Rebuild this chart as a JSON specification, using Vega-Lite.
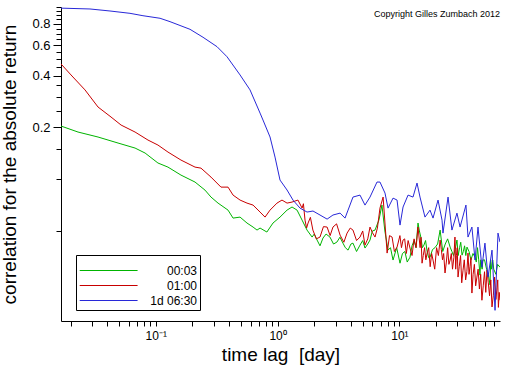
{
 "$schema": "https://vega.github.io/schema/vega-lite/v6.json",
 "width": 439, "height": 314,
 "autosize": {"type": "none"},
 "padding": {"left": 61, "top": 7, "right": 12, "bottom": 45},
 "background": "white",
 "config": {"view": {"stroke": null}, "font": "Liberation Sans"},
 "title": {"text": "Copyright Gilles Zumbach 2012", "anchor": "end", "fontSize": 9, "fontWeight": "normal", "font": "Liberation Sans", "offset": -18, "color": "black"},
 "data": {"values": [
  {"s":"00:03","x":0.01667,"y":0.2035},{"s":"00:03","x":0.023,"y":0.1878},{"s":"00:03","x":0.03357,"y":0.1757},{"s":"00:03","x":0.049,"y":0.1621},{"s":"00:03","x":0.0676,"y":0.1516},{"s":"00:03","x":0.0817,"y":0.1418},{"s":"00:03","x":0.1042,"y":0.1241},{"s":"00:03","x":0.1259,"y":0.1175},{"s":"00:03","x":0.161,"y":0.1056},{"s":"00:03","x":0.21,"y":0.0962},{"s":"00:03","x":0.2535,"y":0.0864},{"s":"00:03","x":0.284,"y":0.0787},{"s":"00:03","x":0.3245,"y":0.0726},{"s":"00:03","x":0.392,"y":0.0661},{"s":"00:03","x":0.431,"y":0.0594},{"s":"00:03","x":0.492,"y":0.0602},{"s":"00:03","x":0.561,"y":0.0556},{"s":"00:03","x":0.629,"y":0.0527},{"s":"00:03","x":0.678,"y":0.0506},{"s":"00:03","x":0.718,"y":0.052},{"s":"00:03","x":0.817,"y":0.0493},{"s":"00:03","x":0.917,"y":0.0556},{"s":"00:03","x":1.047,"y":0.0602},{"s":"00:03","x":1.196,"y":0.0661},{"s":"00:03","x":1.314,"y":0.0689},{"s":"00:03","x":1.445,"y":0.0661},{"s":"00:03","x":1.59,"y":0.0578},{"s":"00:03","x":1.745,"y":0.0506},{"s":"00:03","x":1.92,"y":0.0461},{"s":"00:03","x":2.11,"y":0.0443},{"s":"00:03","x":2.36,"y":0.0455},{"s":"00:03","x":2.69,"y":0.0461},{"s":"00:03","x":3.07,"y":0.0431},{"s":"00:03","x":3.44,"y":0.0425},{"s":"00:03","x":3.79,"y":0.0387},{"s":"00:03","x":4.16,"y":0.0425},{"s":"00:03","x":4.75,"y":0.0414},{"s":"00:03","x":5.22,"y":0.0398},{"s":"00:03","x":5.74,"y":0.0443},{"s":"00:03","x":6.31,"y":0.0506},{"s":"00:03","x":7.19,"y":0.0707},{"s":"00:03","x":8.07,"y":0.0387},{"s":"00:03","x":8.87,"y":0.0339},{"s":"00:03","x":10.12,"y":0.0325},{"s":"00:03","x":12.22,"y":0.0352},{"s":"00:03","x":14.22,"y":0.0556},{"s":"00:03","x":15.9,"y":0.0414},{"s":"00:03","x":17.85,"y":0.0352},{"s":"00:03","x":21.6,"y":0.0506},{"s":"00:03","x":26.1,"y":0.0403},{"s":"00:03","x":29.7,"y":0.0443},{"s":"00:03","x":32.7,"y":0.0362},{"s":"00:03","x":35.9,"y":0.0403},{"s":"00:03","x":41.8,"y":0.0352},{"s":"00:03","x":45.9,"y":0.0277},{"s":"00:03","x":48.5,"y":0.0339},{"s":"00:03","x":55.5,"y":0.0243},{"s":"00:03","x":58.4,"y":0.0339},{"s":"00:03","x":67,"y":0.0308},
  {"s":"00:03","x":2.0,"y":0.048},{"s":"00:03","x":2.23,"y":0.041},{"s":"00:03","x":2.5,"y":0.048},{"s":"00:03","x":2.88,"y":0.042},{"s":"00:03","x":3.25,"y":0.046},{"s":"00:03","x":3.6,"y":0.04},{"s":"00:03","x":4.0,"y":0.042},{"s":"00:03","x":4.45,"y":0.038},{"s":"00:03","x":5.0,"y":0.044},{"s":"00:03","x":5.5,"y":0.042},{"s":"00:03","x":6.0,"y":0.05},{"s":"00:03","x":6.8,"y":0.058},{"s":"00:03","x":7.6,"y":0.05},{"s":"00:03","x":8.45,"y":0.04},{"s":"00:03","x":9.5,"y":0.04},{"s":"00:03","x":11.1,"y":0.038},{"s":"00:03","x":13.2,"y":0.044},{"s":"00:03","x":15.0,"y":0.046},{"s":"00:03","x":16.9,"y":0.038},{"s":"00:03","x":19.6,"y":0.04},{"s":"00:03","x":23.8,"y":0.042},{"s":"00:03","x":27.8,"y":0.036},{"s":"00:03","x":31.2,"y":0.04},{"s":"00:03","x":34.3,"y":0.041},{"s":"00:03","x":38.7,"y":0.034},{"s":"00:03","x":43.8,"y":0.04},{"s":"00:03","x":47.2,"y":0.032},{"s":"00:03","x":52,"y":0.03},{"s":"00:03","x":57,"y":0.03},{"s":"00:03","x":62,"y":0.028},
  {"s":"00:03","x":10.6,"y":0.037},{"s":"00:03","x":11.6,"y":0.033},{"s":"00:03","x":12.7,"y":0.041},{"s":"00:03","x":13.7,"y":0.04},{"s":"00:03","x":14.6,"y":0.05},{"s":"00:03","x":15.45,"y":0.04},{"s":"00:03","x":16.4,"y":0.044},{"s":"00:03","x":17.4,"y":0.035},{"s":"00:03","x":18.7,"y":0.039},{"s":"00:03","x":20.6,"y":0.042},{"s":"00:03","x":22.7,"y":0.038},{"s":"00:03","x":24.9,"y":0.045},{"s":"00:03","x":27.0,"y":0.038},{"s":"00:03","x":28.7,"y":0.039},{"s":"00:03","x":30.4,"y":0.036},{"s":"00:03","x":31.9,"y":0.043},{"s":"00:03","x":33.5,"y":0.038},{"s":"00:03","x":35.1,"y":0.036},{"s":"00:03","x":37.3,"y":0.038},{"s":"00:03","x":40.2,"y":0.037},{"s":"00:03","x":42.8,"y":0.033},{"s":"00:03","x":44.8,"y":0.034},{"s":"00:03","x":46.5,"y":0.034},{"s":"00:03","x":47.8,"y":0.03},{"s":"00:03","x":50,"y":0.034},{"s":"00:03","x":53.7,"y":0.028},{"s":"00:03","x":56.2,"y":0.034},{"s":"00:03","x":59.5,"y":0.03},{"s":"00:03","x":64,"y":0.032},
  {"s":"01:00","x":0.01667,"y":0.467},{"s":"01:00","x":0.02014,"y":0.403},{"s":"01:00","x":0.02624,"y":0.33},{"s":"01:00","x":0.03357,"y":0.2624},{"s":"01:00","x":0.0429,"y":0.2296},{"s":"01:00","x":0.0519,"y":0.2062},{"s":"01:00","x":0.0676,"y":0.1878},{"s":"01:00","x":0.0863,"y":0.1687},{"s":"01:00","x":0.1042,"y":0.1578},{"s":"01:00","x":0.1259,"y":0.1437},{"s":"01:00","x":0.161,"y":0.1291},{"s":"01:00","x":0.21,"y":0.1175},{"s":"01:00","x":0.235,"y":0.1159},{"s":"01:00","x":0.284,"y":0.1028},{"s":"01:00","x":0.343,"y":0.0899},{"s":"01:00","x":0.392,"y":0.0899},{"s":"01:00","x":0.431,"y":0.0808},{"s":"01:00","x":0.492,"y":0.0756},{"s":"01:00","x":0.561,"y":0.0726},{"s":"01:00","x":0.629,"y":0.0707},{"s":"01:00","x":0.718,"y":0.0644},{"s":"01:00","x":0.789,"y":0.0602},{"s":"01:00","x":0.867,"y":0.0661},{"s":"01:00","x":0.989,"y":0.0726},{"s":"01:00","x":1.087,"y":0.0756},{"s":"01:00","x":1.196,"y":0.0726},{"s":"01:00","x":1.314,"y":0.0736},{"s":"01:00","x":1.47,"y":0.0756},{"s":"01:00","x":1.59,"y":0.0679},{"s":"01:00","x":1.68,"y":0.0578},{"s":"01:00","x":1.78,"y":0.0556},{"s":"01:00","x":1.95,"y":0.0506},{"s":"01:00","x":2.23,"y":0.0461},{"s":"01:00","x":2.55,"y":0.0527},{"s":"01:00","x":2.85,"y":0.0527},{"s":"01:00","x":3.26,"y":0.0473},{"s":"01:00","x":3.72,"y":0.0486},{"s":"01:00","x":4.16,"y":0.0506},{"s":"01:00","x":4.75,"y":0.0461},{"s":"01:00","x":5.22,"y":0.0414},{"s":"01:00","x":5.74,"y":0.0527},{"s":"01:00","x":6.31,"y":0.0461},{"s":"01:00","x":6.93,"y":0.0679},{"s":"01:00","x":7.35,"y":0.0787},{"s":"01:00","x":7.93,"y":0.0372},{"s":"01:00","x":8.71,"y":0.0461},{"s":"01:00","x":9.57,"y":0.0403},{"s":"01:00","x":10.72,"y":0.0443},{"s":"01:00","x":12.22,"y":0.0398},{"s":"01:00","x":14.22,"y":0.0527},{"s":"01:00","x":15.35,"y":0.0325},{"s":"01:00","x":16.9,"y":0.0372},{"s":"01:00","x":18.89,"y":0.0339},{"s":"01:00","x":21.6,"y":0.0443},{"s":"01:00","x":23.7,"y":0.0285},{"s":"01:00","x":26.1,"y":0.0339},{"s":"01:00","x":28.6,"y":0.0461},{"s":"01:00","x":30.3,"y":0.027},{"s":"01:00","x":33.3,"y":0.0296},{"s":"01:00","x":36.6,"y":0.0372},{"s":"01:00","x":39.4,"y":0.0218},{"s":"01:00","x":43.3,"y":0.027},{"s":"01:00","x":47.6,"y":0.0198},{"s":"01:00","x":52.4,"y":0.0296},{"s":"01:00","x":57.6,"y":0.0181},{"s":"01:00","x":63.4,"y":0.0236},{"s":"01:00","x":67,"y":0.0198},
  {"s":"01:00","x":1.63,"y":0.072},{"s":"01:00","x":1.73,"y":0.052},{"s":"01:00","x":1.86,"y":0.06},{"s":"01:00","x":2.08,"y":0.045},{"s":"01:00","x":2.38,"y":0.053},{"s":"01:00","x":2.7,"y":0.047},{"s":"01:00","x":3.05,"y":0.055},{"s":"01:00","x":3.5,"y":0.043},{"s":"01:00","x":3.95,"y":0.052},{"s":"01:00","x":4.45,"y":0.044},{"s":"01:00","x":5.0,"y":0.05},{"s":"01:00","x":5.5,"y":0.045},{"s":"01:00","x":6.0,"y":0.049},{"s":"01:00","x":6.6,"y":0.052},{"s":"01:00","x":8.3,"y":0.047},{"s":"01:00","x":9.1,"y":0.038},{"s":"01:00","x":10.1,"y":0.047},{"s":"01:00","x":11.4,"y":0.037},{"s":"01:00","x":13.2,"y":0.045},{"s":"01:00","x":14.8,"y":0.04},{"s":"01:00","x":16.1,"y":0.04},{"s":"01:00","x":17.9,"y":0.031},{"s":"01:00","x":20.2,"y":0.04},{"s":"01:00","x":22.6,"y":0.034},{"s":"01:00","x":24.9,"y":0.04},{"s":"01:00","x":27.3,"y":0.03},{"s":"01:00","x":29.4,"y":0.036},{"s":"01:00","x":31.8,"y":0.036},{"s":"01:00","x":35,"y":0.026},{"s":"01:00","x":38,"y":0.031},{"s":"01:00","x":41.3,"y":0.032},{"s":"01:00","x":45.4,"y":0.023},{"s":"01:00","x":50,"y":0.029},{"s":"01:00","x":55,"y":0.021},{"s":"01:00","x":60.5,"y":0.027},{"s":"01:00","x":65,"y":0.018},
  {"s":"01:00","x":10.4,"y":0.04},{"s":"01:00","x":11.05,"y":0.045},{"s":"01:00","x":11.8,"y":0.044},{"s":"01:00","x":12.7,"y":0.036},{"s":"01:00","x":13.7,"y":0.04},{"s":"01:00","x":15.05,"y":0.046},{"s":"01:00","x":15.7,"y":0.036},{"s":"01:00","x":16.5,"y":0.034},{"s":"01:00","x":17.4,"y":0.04},{"s":"01:00","x":18.4,"y":0.037},{"s":"01:00","x":19.5,"y":0.03},{"s":"01:00","x":20.9,"y":0.036},{"s":"01:00","x":22.1,"y":0.039},{"s":"01:00","x":23.1,"y":0.037},{"s":"01:00","x":24.3,"y":0.033},{"s":"01:00","x":25.5,"y":0.032},{"s":"01:00","x":26.7,"y":0.037},{"s":"01:00","x":28.0,"y":0.035},{"s":"01:00","x":29.0,"y":0.03},{"s":"01:00","x":29.85,"y":0.04},{"s":"01:00","x":31.0,"y":0.031},{"s":"01:00","x":32.5,"y":0.025},{"s":"01:00","x":34.1,"y":0.034},{"s":"01:00","x":35.8,"y":0.029},{"s":"01:00","x":37.3,"y":0.028},{"s":"01:00","x":38.7,"y":0.035},{"s":"01:00","x":40.3,"y":0.028},{"s":"01:00","x":42.3,"y":0.024},{"s":"01:00","x":44.3,"y":0.03},{"s":"01:00","x":46.5,"y":0.028},{"s":"01:00","x":48.8,"y":0.024},{"s":"01:00","x":51.2,"y":0.022},{"s":"01:00","x":53.7,"y":0.025},{"s":"01:00","x":56.3,"y":0.026},{"s":"01:00","x":59,"y":0.021},{"s":"01:00","x":62,"y":0.02},{"s":"01:00","x":64.2,"y":0.026},{"s":"01:00","x":66,"y":0.022},
  {"s":"1d 06:30","x":0.01667,"y":0.985},{"s":"1d 06:30","x":0.02884,"y":0.974},{"s":"1d 06:30","x":0.04207,"y":0.948},{"s":"1d 06:30","x":0.0614,"y":0.919},{"s":"1d 06:30","x":0.0785,"y":0.89},{"s":"1d 06:30","x":0.1084,"y":0.86},{"s":"1d 06:30","x":0.1309,"y":0.822},{"s":"1d 06:30","x":0.191,"y":0.742},{"s":"1d 06:30","x":0.2443,"y":0.667},{"s":"1d 06:30","x":0.3184,"y":0.588},{"s":"1d 06:30","x":0.3846,"y":0.514},{"s":"1d 06:30","x":0.492,"y":0.403},{"s":"1d 06:30","x":0.594,"y":0.33},{"s":"1d 06:30","x":0.718,"y":0.242},{"s":"1d 06:30","x":0.759,"y":0.2205},{"s":"1d 06:30","x":0.867,"y":0.1758},{"s":"1d 06:30","x":0.953,"y":0.1343},{"s":"1d 06:30","x":1.047,"y":0.0988},{"s":"1d 06:30","x":1.196,"y":0.0865},{"s":"1d 06:30","x":1.34,"y":0.0755},{"s":"1d 06:30","x":1.528,"y":0.0679},{"s":"1d 06:30","x":1.745,"y":0.0644},{"s":"1d 06:30","x":1.954,"y":0.0653},{"s":"1d 06:30","x":2.23,"y":0.0619},{"s":"1d 06:30","x":2.55,"y":0.0586},{"s":"1d 06:30","x":2.85,"y":0.0619},{"s":"1d 06:30","x":3.26,"y":0.0635},{"s":"1d 06:30","x":3.58,"y":0.0594},{"s":"1d 06:30","x":3.79,"y":0.0661},{"s":"1d 06:30","x":4.16,"y":0.0787},{"s":"1d 06:30","x":4.75,"y":0.0808},{"s":"1d 06:30","x":5.22,"y":0.0707},{"s":"1d 06:30","x":5.74,"y":0.0787},{"s":"1d 06:30","x":6.55,"y":0.0962},{"s":"1d 06:30","x":6.93,"y":0.0962},{"s":"1d 06:30","x":7.62,"y":0.083},{"s":"1d 06:30","x":8.07,"y":0.0679},{"s":"1d 06:30","x":8.87,"y":0.0776},{"s":"1d 06:30","x":9.57,"y":0.0756},{"s":"1d 06:30","x":10.12,"y":0.0541},{"s":"1d 06:30","x":10.72,"y":0.0689},{"s":"1d 06:30","x":11.78,"y":0.0808},{"s":"1d 06:30","x":12.94,"y":0.0787},{"s":"1d 06:30","x":13.96,"y":0.0949},{"s":"1d 06:30","x":14.77,"y":0.0787},{"s":"1d 06:30","x":16.23,"y":0.0602},{"s":"1d 06:30","x":17.85,"y":0.0661},{"s":"1d 06:30","x":18.89,"y":0.0594},{"s":"1d 06:30","x":20.77,"y":0.0756},{"s":"1d 06:30","x":22.39,"y":0.0578},{"s":"1d 06:30","x":22.8,"y":0.0486},{"s":"1d 06:30","x":25.1,"y":0.0787},{"s":"1d 06:30","x":27,"y":0.0506},{"s":"1d 06:30","x":29.7,"y":0.0635},{"s":"1d 06:30","x":31.5,"y":0.0527},{"s":"1d 06:30","x":35.2,"y":0.0707},{"s":"1d 06:30","x":36.6,"y":0.0461},{"s":"1d 06:30","x":39.4,"y":0.0527},{"s":"1d 06:30","x":41.8,"y":0.0339},{"s":"1d 06:30","x":44.2,"y":0.0527},{"s":"1d 06:30","x":47.6,"y":0.0308},{"s":"1d 06:30","x":50.4,"y":0.0425},{"s":"1d 06:30","x":53.4,"y":0.027},{"s":"1d 06:30","x":57.6,"y":0.0387},{"s":"1d 06:30","x":61,"y":0.0173},{"s":"1d 06:30","x":64.5,"y":0.0486},{"s":"1d 06:30","x":67,"y":0.0431}
 ]},
 "mark": {"type": "line", "strokeWidth": 1, "clip": true},
 "encoding": {
  "x": {"field": "x", "type": "quantitative",
   "scale": {"type": "log", "domain": [0.01667, 67], "nice": false},
   "axis": {"title": "time lag\u00a0 [day]", "grid": false,
    "values": [0.02,0.03,0.04,0.05,0.06,0.07,0.08,0.09,0.1,0.2,0.3,0.4,0.5,0.6,0.7,0.8,0.9,1,2,3,4,5,6,7,8,9,10,20,30,40,50,60],
    "labelExpr": "datum.value==0.1?'10⁻¹':datum.value==1?'10⁰':datum.value==10?'10¹':''",
    "tickSize": 5, "tickColor": "black", "domainColor": "black", "labelColor": "black",
    "labelFontSize": 12, "labelFont": "Liberation Sans", "labelPadding": 4, "labelOverlap": false, "labelFlush": false,
    "titleFontSize": 19, "titleFontWeight": "normal", "titleColor": "black", "titleFont": "Liberation Sans", "titlePadding": 4}},
  "y": {"field": "y", "type": "quantitative",
   "scale": {"type": "log", "domain": [0.015, 1], "nice": false},
   "axis": {"title": "correlation for the absolute return", "grid": false,
    "values": [0.05,0.1,0.15,0.2,0.25,0.3,0.35,0.4,0.45,0.5,0.55,0.6,0.65,0.7,0.75,0.8,0.85,0.9,0.95,1],
    "labelExpr": "indexof([0.2,0.4,0.6,0.8],datum.value)>=0?format(datum.value,'.1f'):''",
    "tickSize": {"condition": {"test": "indexof([0.2,0.4,0.6,0.8],datum.value)>=0", "value": 8}, "value": 5},
    "tickColor": "black", "domainColor": "black", "labelColor": "black",
    "labelFontSize": 13, "labelFont": "Liberation Sans", "labelPadding": 3, "labelOverlap": false, "labelFlush": false,
    "titleFontSize": 19, "titleFontWeight": "normal", "titleColor": "black", "titleFont": "Liberation Sans", "titlePadding": 12}},
  "color": {"field": "s", "type": "nominal",
   "scale": {"domain": ["00:03", "01:00", "1d 06:30"], "range": ["#00b400", "#c80000", "#2828d8"]},
   "legend": {"title": "\u00a0", "titleFontSize": 5, "titlePadding": 1, "orient": "none", "legendX": 15, "legendY": 248, "strokeColor": "black", "padding": 3,
    "symbolType": "M-1,0H9", "symbolSize": 134, "symbolStrokeWidth": 1, "labelAlign": "right", "labelOffset": 105,
    "labelFontSize": 12, "labelFont": "Liberation Sans", "labelColor": "black", "rowPadding": 2}}
 }
}
